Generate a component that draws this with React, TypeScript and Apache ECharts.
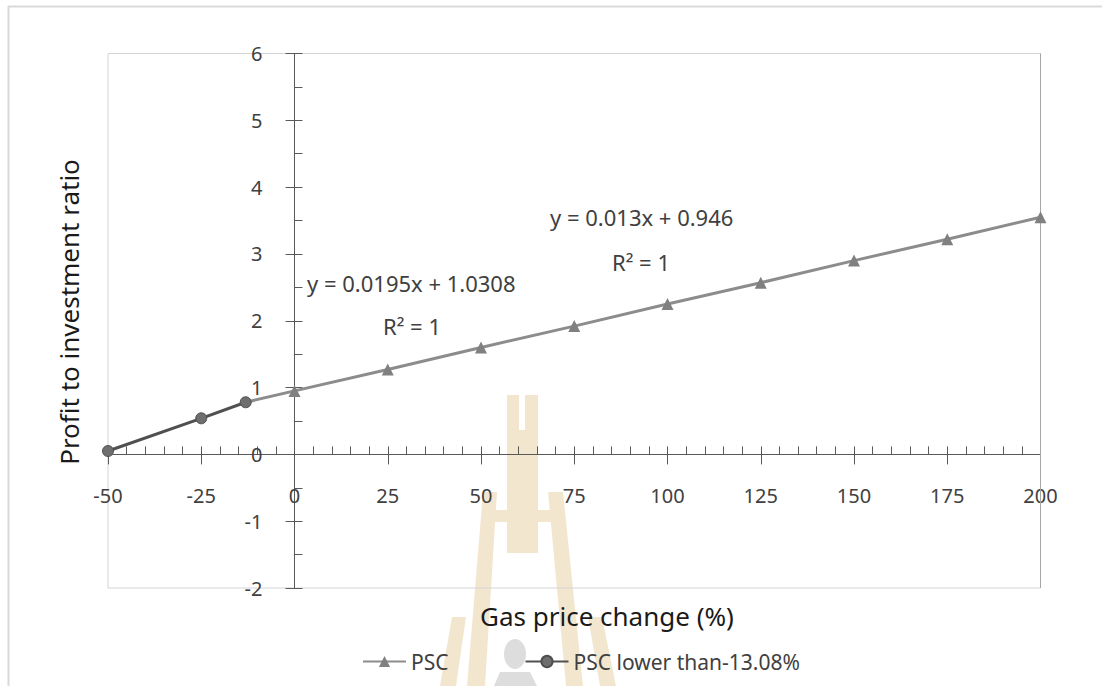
import React, { useEffect, useRef } from "react";
import * as echarts from "echarts";

// ---- data ----
const xMin = -50;
const xMax = 200;
const xStep = 25;
const yMin = -2;
const yMax = 6;
const yStep = 1;

const seriesNames = ["PSC", "PSC lower than-13.08%"];
const pscX = [-13.08, 0, 25, 50, 75, 100, 125, 150, 175, 200];
const pscY = [0.78, 0.95, 1.27, 1.6, 1.92, 2.25, 2.57, 2.9, 3.22, 3.55];
const lowX = [-50, -25, -13.08];
const lowY = [0.05, 0.54, 0.78];

const trendPSC = ["y = 0.013x + 0.946", "R² = 1"];
const trendLow = ["y = 0.0195x + 1.0308", "R² = 1"];
const xTitle = "Gas price change (%)";
const yTitle = "Profit to investment ratio";

const FONT = "'Noto Sans', sans-serif";
const AXIS = "#595959";
const TXT = "#404040";
const TAN = "#f3e6cf";
const GRAY = "#dddddd";

// layout
const W = 1102;
const H = 686;
const G_LEFT = 108;
const G_TOP = 53.5;
const G_RIGHT = 61.5;
const G_BOTTOM = 98;

export default function App() {
  const ref = useRef<HTMLDivElement>(null);

  useEffect(() => {
    if (!ref.current) return;
    const chart = echarts.init(ref.current, undefined, { renderer: "svg" });

    const plotW = W - G_LEFT - G_RIGHT;
    const plotH = H - G_TOP - G_BOTTOM;
    // pixel distances from grid edges to the zero lines (axes cross at 0,0)
    const zeroFromLeft = ((0 - xMin) / (xMax - xMin)) * plotW;
    const zeroFromRight = plotW - zeroFromLeft;
    const zeroFromBottom = ((0 - yMin) / (yMax - yMin)) * plotH;
    const zeroFromTop = plotH - zeroFromBottom;

    const poly = (pts: number[][], fill: string) => ({
      type: "polygon",
      z: -1,
      silent: true,
      shape: { points: pts },
      style: { fill },
    });

    const text = (t: string, x: number, y: number, size: number, color: string, extra: any = {}) => ({
      type: "text",
      z: 10,
      x,
      y,
      ...extra,
      style: {
        text: t,
        fontSize: size,
        fontFamily: FONT,
        fill: color,
        align: extra.align || "left",
        verticalAlign: "middle",
      },
    });

    const line = { show: true, onZero: false, lineStyle: { color: AXIS, width: 1 } };

    const option: any = {
      animation: false,
      backgroundColor: "#ffffff",
      grid: {
        left: G_LEFT,
        top: G_TOP,
        right: G_RIGHT,
        bottom: G_BOTTOM,
        show: true,
        borderColor: "#d4d4d4",
        borderWidth: 1,
      },
      xAxis: [
        {
          type: "value",
          min: xMin,
          max: xMax,
          interval: xStep,
          position: "bottom",
          offset: -zeroFromBottom,
          axisLine: line,
          axisTick: { show: true, inside: false, length: 10, lineStyle: { color: AXIS } },
          minorTick: { show: false },
          axisLabel: { margin: 31, fontSize: 20, color: TXT, fontFamily: FONT },
          splitLine: { show: false },
        },
        {
          type: "value",
          min: xMin,
          max: xMax,
          interval: xStep,
          position: "top",
          offset: -zeroFromTop,
          axisLine: line,
          axisTick: { show: true, inside: false, length: 8, lineStyle: { color: AXIS } },
          minorTick: { show: true, splitNumber: 5, length: 8, lineStyle: { color: AXIS } },
          axisLabel: { show: false },
          splitLine: { show: false },
        },
      ],
      yAxis: [
        {
          type: "value",
          min: yMin,
          max: yMax,
          interval: yStep,
          position: "left",
          offset: -zeroFromLeft,
          axisLine: line,
          axisTick: { show: true, inside: false, length: 9, lineStyle: { color: AXIS } },
          minorTick: { show: false },
          axisLabel: { margin: 32, fontSize: 20, color: TXT, fontFamily: FONT },
          splitLine: { show: false },
        },
        {
          type: "value",
          min: yMin,
          max: yMax,
          interval: yStep,
          position: "right",
          offset: -zeroFromRight,
          axisLine: line,
          axisTick: { show: true, inside: false, length: 8, lineStyle: { color: AXIS } },
          minorTick: { show: true, splitNumber: 2, length: 8, lineStyle: { color: AXIS } },
          axisLabel: { show: false },
          splitLine: { show: false },
        },
      ],
      legend: {
        left: 357,
        top: 646,
        itemGap: 76,
        itemWidth: 43,
        itemHeight: 14,
        data: seriesNames,
        textStyle: { fontSize: 21, color: TXT, fontFamily: FONT },
      },
      series: [
        {
          name: seriesNames[0],
          type: "line",
          xAxisIndex: 0,
          yAxisIndex: 0,
          symbol: "triangle",
          symbolSize: 12,
          data: pscX.map((x, i) =>
            i === 0 ? { value: [x, pscY[i]], symbol: "none" } : [x, pscY[i]]
          ),
          lineStyle: { color: "#8c8c8c", width: 3 },
          itemStyle: { color: "#808080" },
          z: 3,
        },
        {
          name: seriesNames[1],
          type: "line",
          xAxisIndex: 0,
          yAxisIndex: 0,
          symbol: "circle",
          symbolSize: 11,
          data: lowX.map((x, i) => [x, lowY[i]]),
          lineStyle: { color: "#505050", width: 3 },
          itemStyle: { color: "#6e6e6e", borderColor: "#4f4f4f", borderWidth: 1 },
          z: 4,
        },
      ],
      graphic: [
        // watermark (faint)
        poly([[507, 395], [519, 395], [519, 553], [507, 553]], TAN),
        poly([[525, 395], [538, 395], [538, 553], [525, 553]], TAN),
        poly([[519, 430], [525, 430], [525, 553], [519, 553]], TAN),
        poly([[483, 510], [507, 510], [507, 522], [483, 522]], TAN),
        poly([[538, 510], [563, 510], [563, 522], [538, 522]], TAN),
        poly([[483, 492], [497, 492], [485, 686], [467, 686]], TAN),
        poly([[548, 492], [563, 492], [583, 686], [566, 686]], TAN),
        poly([[452, 617], [466, 617], [456, 686], [440, 686]], TAN),
        poly([[588, 617], [602, 617], [616, 686], [600, 686]], TAN),
        {
          type: "ellipse",
          z: -1,
          silent: true,
          shape: { cx: 515, cy: 654, rx: 11, ry: 15 },
          style: { fill: GRAY },
        },
        poly([[494, 686], [500, 672], [530, 672], [537, 686]], GRAY),
        // outer frame
        {
          type: "line",
          z: 1,
          shape: { x1: 8, y1: 6.5, x2: W, y2: 6.5 },
          style: { stroke: "#d9d9d9", lineWidth: 2 },
        },
        {
          type: "line",
          z: 1,
          shape: { x1: 8.5, y1: 6, x2: 8.5, y2: H },
          style: { stroke: "#d9d9d9", lineWidth: 2 },
        },
        {
          type: "line",
          z: 1,
          shape: { x1: W - G_RIGHT, y1: G_TOP, x2: W - G_RIGHT, y2: H - G_BOTTOM },
          style: { stroke: "#a6a6a6", lineWidth: 1 },
        },
        // trendline labels
        text(trendPSC[0], 550, 217, 22, TXT),
        text(trendPSC[1], 612, 262, 22, TXT),
        text(trendLow[0], 307, 283, 22, TXT),
        text(trendLow[1], 383, 326, 22, TXT),
        // axis titles
        text(xTitle, 480, 616, 26, "#1a1a1a"),
        text(yTitle, 69, 312, 26, "#1a1a1a", { rotation: Math.PI / 2, align: "center" }),
      ],
    };

    chart.setOption(option);
    return () => chart.dispose();
  }, []);

  return (
    <div
      ref={ref}
      style={{ position: "absolute", left: 0, top: 0, width: W, height: H }}
    />
  );
}
